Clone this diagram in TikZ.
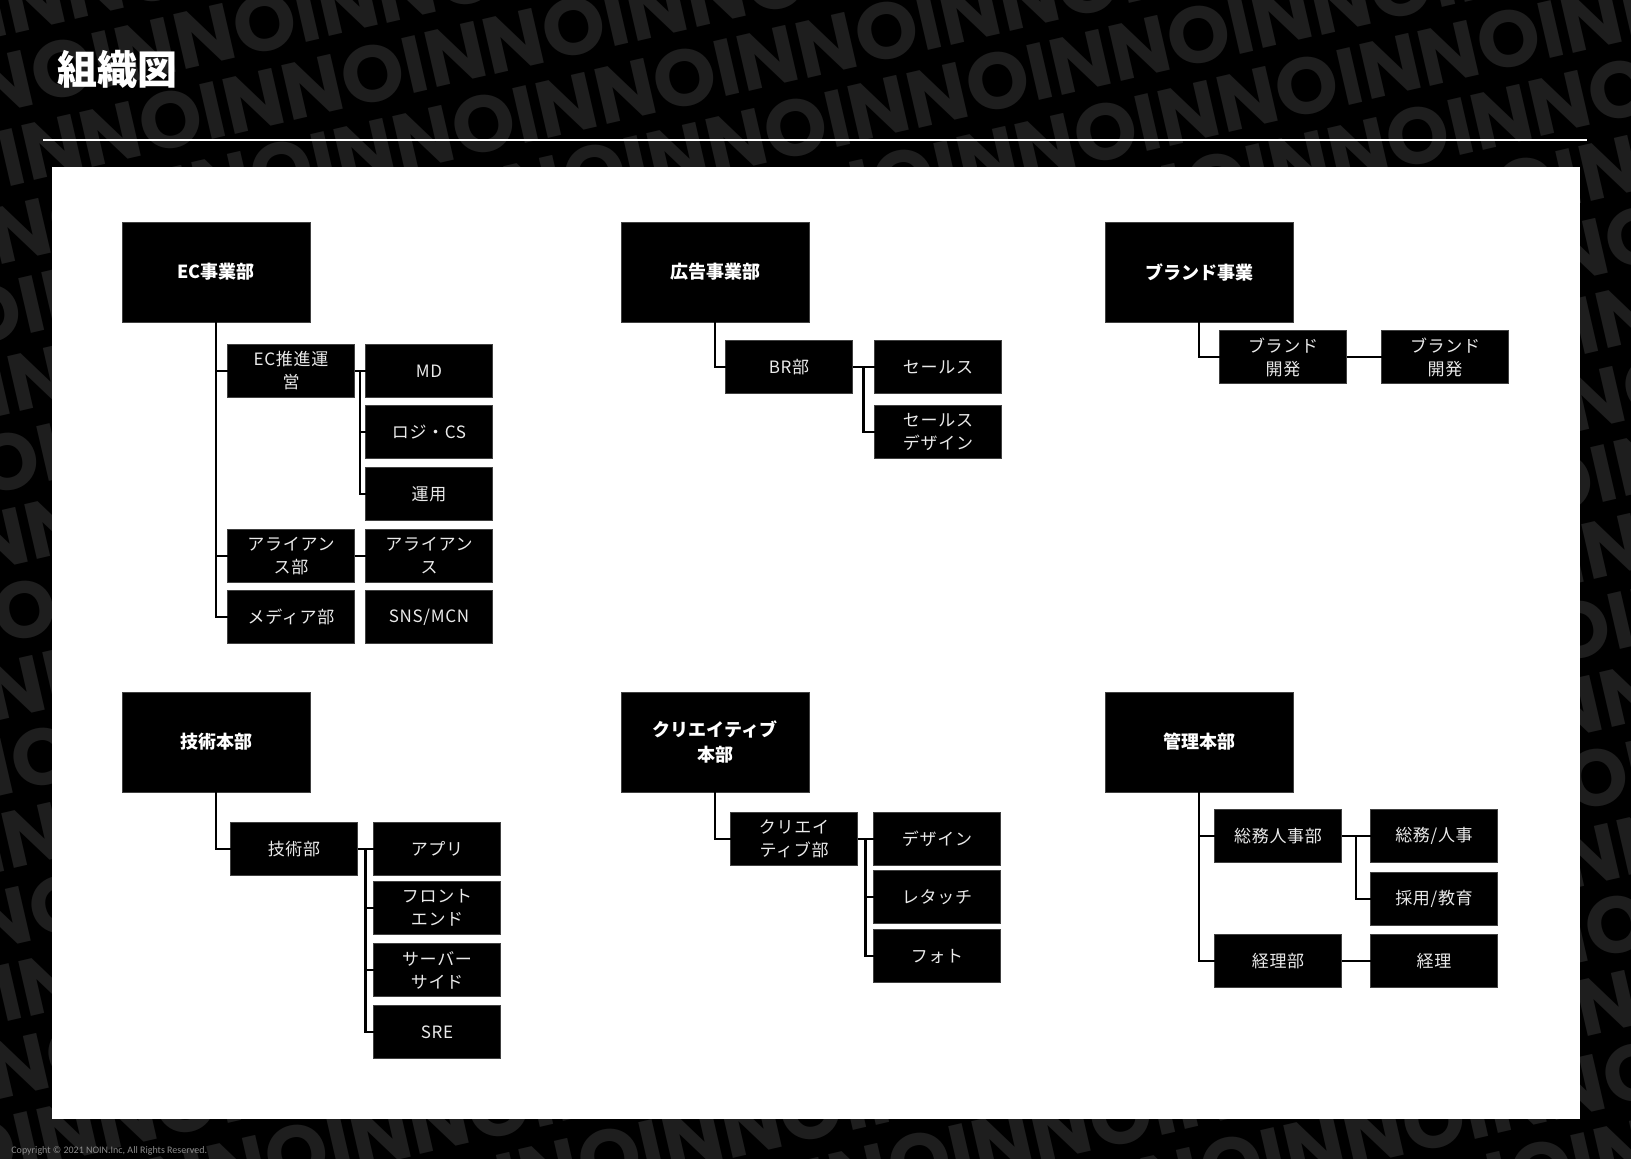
\documentclass[tikz,border=0pt]{standalone}
\usepackage{fontspec}
\usetikzlibrary{calc}
\newfontfamily\jpfont{Noto Sans CJK JP}
\newfontfamily\jpthin{Noto Sans CJK JP}[LetterSpace=4]
\newfontfamily\noinfont{Poppins}
\newfontfamily\copyfont{Carlito}
\definecolor{noingray}{RGB}{30,30,30}
\definecolor{boxtext}{RGB}{234,234,234}
\definecolor{copygray}{RGB}{140,140,140}

\begin{document}
\begin{tikzpicture}[x=0.5pt, y=-0.5pt,
        head/.style={fill=black, draw=black!75, line width=0.3pt, minimum width=94pt, minimum height=50pt,
          inner sep=0pt, outer sep=0pt, align=center, text=white, font=\jpfont\bfseries\fontsize{9}{12.5}\selectfont},
        unit/.style={fill=black, draw=black!75, line width=0.3pt, minimum width=63.5pt, minimum height=26.5pt,
          inner sep=0pt, outer sep=0pt, align=center, text=boxtext, font=\jpthin\fontsize{8.5}{11.5}\selectfont},
        link/.style={line width=1.3pt, black}]
        \useasboundingbox (0,0) rectangle (1631,1158);
        % Hintergrund
        \fill[black] (-10,-10) rectangle (1641,1168);
        \begin{scope}
          \clip (-10,-10) rectangle (1641,1168);
          \foreach \r in {-12,...,12} {
            \pgfmathsetmacro{\s}{mod(\r*97+1200,210)}
            \node[rotate=13, inner sep=0pt, text=noingray, font=\noinfont\bfseries\fontsize{40}{40}\selectfont]
              at ({815+16.6*\r+0.974*\s}, {579+72.1*\r-0.225*\s}) {NOINNOINNOINNOINNOINNOINNOINNOINNOINNOINNOINNOIN};
          }
        \end{scope}
        % Titel und Rahmen
        \node[anchor=west, inner sep=0pt, text=white, font=\jpfont\bfseries\fontsize{20}{24}\selectfont] (title) at (57,69) {組織図};
        \draw[white, line width=0.8pt] (43,140) -- (1587,140);
        \fill[white] (52,167) rectangle (1580,1119);
        \node[anchor=west, inner sep=0pt, text=copygray, font=\copyfont\fontsize{5}{6}\selectfont] (copy) at (11,1151)
          {Copyright © 2021 NOIN.Inc, All Rights Reserved.};
        % EC事業部
        \node[head] (ec) at (216,272) {EC事業部};
        \node[unit] (ecpro) at (291,371) {EC推進運\\営};
        \node[unit] (ali) at (291,556) {アライアン\\ス部};
        \node[unit] (media) at (291,617) {メディア部};
        \node[unit] (md) at (429,371) {MD};
        \node[unit] (logi) at (429,432) {ロジ・CS};
        \node[unit] (unyo) at (429,494) {運用};
        \node[unit] (ali2) at (429,556) {アライアン\\ス};
        \node[unit] (sns) at (429,617) {SNS/MCN};
        % 広告事業部
        \node[head] (ad) at (715,272) {広告事業部};
        \node[unit] (br) at (789,367) {BR部};
        \node[unit] (sales) at (938,367) {セールス};
        \node[unit] (salesd) at (938,432) {セールス\\デザイン};
        % ブランド事業
        \node[head] (brand) at (1199,272) {ブランド事業};
        \node[unit] (brdev) at (1283,357) {ブランド\\開発};
        \node[unit] (brdev2) at (1445,357) {ブランド\\開発};
        % 技術本部
        \node[head] (tech) at (216,742) {技術本部};
        \node[unit] (techdep) at (294,849) {技術部};
        \node[unit] (app) at (437,849) {アプリ};
        \node[unit] (front) at (437,908) {フロント\\エンド};
        \node[unit] (server) at (437,970) {サーバー\\サイド};
        \node[unit] (sre) at (437,1032) {SRE};
        % クリエイティブ本部
        \node[head] (cre) at (715,742) {クリエイティブ\\本部};
        \node[unit] (credep) at (794,839) {クリエイ\\ティブ部};
        \node[unit] (design) at (937,839) {デザイン};
        \node[unit] (retouch) at (937,897) {レタッチ};
        \node[unit] (photo) at (937,956) {フォト};
        % 管理本部
        \node[head] (admin) at (1199,742) {管理本部};
        \node[unit] (soumu) at (1278,836) {総務人事部};
        \node[unit] (soumu2) at (1434,836) {総務/人事};
        \node[unit] (saiyo) at (1434,899) {採用/教育};
        \node[unit] (keiri) at (1278,961) {経理部};
        \node[unit] (keiri2) at (1434,961) {経理};
        % Verbindungen
        \foreach \p/\c in {ec/ecpro, ec/ali, ec/media, ad/br, brand/brdev, tech/techdep, cre/credep, admin/soumu, admin/keiri}
          \draw[link] (\p) |- (\c);
        \foreach \a/\b in {ecpro/md, ali/ali2, br/sales, brdev/brdev2, techdep/app, credep/design, soumu/soumu2, keiri/keiri2}
          \draw[link] (\a) -- (\b);
        \coordinate (ecbus) at ($(ecpro.east)!.5!(md.west)$);
        \coordinate (adbus) at ($(br.east)!.5!(sales.west)$);
        \coordinate (techbus) at ($(techdep.east)!.5!(app.west)$);
        \coordinate (crebus) at ($(credep.east)!.5!(design.west)$);
        \coordinate (adminbus) at ($(soumu.east)!.5!(soumu2.west)$);
        \foreach \b/\c in {ecbus/logi, ecbus/unyo, adbus/salesd, techbus/front, techbus/server, techbus/sre,
          crebus/retouch, crebus/photo, adminbus/saiyo}
          \draw[link] (\b) |- (\c);
\end{tikzpicture}
\end{document}
